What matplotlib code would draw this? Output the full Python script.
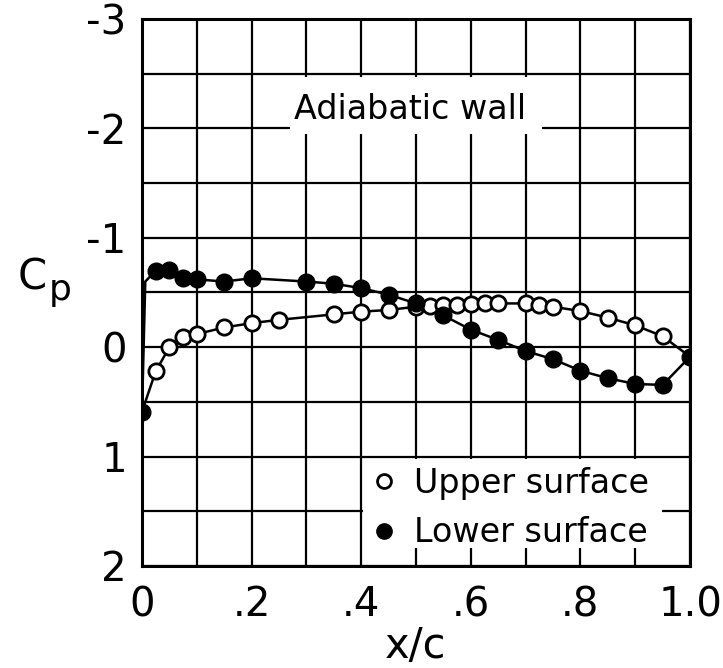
"""Cp distribution over the airfoil, adiabatic wall case."""

import numpy as np
import matplotlib

matplotlib.use("Agg")
import matplotlib.pyplot as plt
from matplotlib.patches import Rectangle
from matplotlib.lines import Line2D

plt.rcParams["font.family"] = ["DejaVu Sans Condensed", "Liberation Sans Narrow", "DejaVu Sans"]

# ---- data ----
upper_x = [0.025, 0.05, 0.075, 0.1, 0.15, 0.2, 0.25, 0.35, 0.4, 0.45, 0.5,
           0.525, 0.55, 0.575, 0.6, 0.625, 0.65, 0.7, 0.725, 0.75,
           0.8, 0.85, 0.9, 0.95]
upper_cp = [0.22, 0.0, -0.09, -0.12, -0.18, -0.22, -0.25, -0.30, -0.325, -0.34, -0.37,
            -0.38, -0.39, -0.39, -0.395, -0.40, -0.40, -0.40, -0.39, -0.37,
            -0.33, -0.27, -0.20, -0.10]

lower_x = [0.0, 0.025, 0.05, 0.075, 0.1, 0.15, 0.2, 0.3, 0.35, 0.4, 0.45, 0.5,
           0.55, 0.6, 0.65, 0.7, 0.75, 0.8, 0.85, 0.9, 0.95, 1.0]
lower_cp = [0.59, -0.70, -0.71, -0.63, -0.62, -0.60, -0.63, -0.60, -0.58, -0.54, -0.48, -0.40,
            -0.29, -0.16, -0.066, 0.035, 0.11, 0.215, 0.284, 0.336, 0.345, 0.087]

# faired curve: leading-edge knee on the lower surface (no symbol)
knee_x, knee_cp = 0.006, -0.60

x_ticks = [0, 0.2, 0.4, 0.6, 0.8, 1.0]
x_ticklabels = ["0", ".2", ".4", ".6", ".8", "1.0"]
y_ticks = [-3, -2, -1, 0, 1, 2]
y_ticklabels = ["-3", "-2", "-1", "0", "1", "2"]

fig = plt.figure(figsize=(7.23, 6.68), dpi=100)
ax = fig.add_axes([0.1964, 0.1527, 0.758, 0.8189])

ax.set_xlim(0, 1.0)
ax.set_ylim(2, -3)
ax.set_xticks(x_ticks)
ax.set_xticklabels(x_ticklabels)
ax.set_xticks(np.arange(0.1, 1.0, 0.2), minor=True)
ax.set_yticks(y_ticks)
ax.set_yticklabels(y_ticklabels)
ax.set_yticks(np.arange(-2.5, 2.0, 1.0), minor=True)
ax.tick_params(which="both", length=0, labelsize=29)
ax.tick_params(axis="x", pad=14)
ax.tick_params(axis="y", pad=11)
ax.set_axisbelow(True)
ax.grid(which="both", color="black", lw=1.6)
for s in ax.spines.values():
    s.set_linewidth(2.2)

# white areas where the grid is cut for the lettering
ax.add_patch(Rectangle((0.27, -2.47), 0.46, 0.52, fc="white", ec="none", zorder=1))
ax.add_patch(Rectangle((0.403, 1.02), 0.545, 0.82, fc="white", ec="none", zorder=1))

ax.text(0.49, -2.17, "Adiabatic wall", fontsize=24, ha="center", va="center", zorder=3)

# upper surface: faired from the leading-edge point to the trailing-edge point
ux = [lower_x[0]] + upper_x + [lower_x[-1]]
ucp = [lower_cp[0]] + upper_cp + [lower_cp[-1]]
ax.plot(ux, ucp, color="black", lw=1.8, zorder=2)
ax.plot(upper_x, upper_cp, "o", ms=11, mfc="white", mec="black", mew=2, zorder=3)

lx = [lower_x[0], knee_x] + lower_x[1:]
lcp = [lower_cp[0], knee_cp] + lower_cp[1:]
ax.plot(lx, lcp, color="black", lw=1.8, zorder=2)
ax.plot(lower_x, lower_cp, "o", ms=12, mfc="black", mec="black", zorder=4)

handles = [
    Line2D([], [], ls="none", marker="o", ms=10, mfc="white", mec="black", mew=2),
    Line2D([], [], ls="none", marker="o", ms=11, mfc="black", mec="black"),
]
ax.legend(handles, ["Upper surface", "Lower surface"], loc="lower left",
          bbox_to_anchor=(0.375, 0.0), frameon=False, fontsize=24,
          handletextpad=0.3, handlelength=1.2, labelspacing=0.5, borderpad=0)

ax.set_xlabel("x/c", fontsize=30, labelpad=0)
fig.text(18 / 723, 1 - 290 / 668, "C", fontsize=30, ha="left", va="baseline")
fig.text(49 / 723, 1 - 300 / 668, "p", fontsize=26, ha="left", va="baseline")

fig.savefig("out.png", dpi=100)
